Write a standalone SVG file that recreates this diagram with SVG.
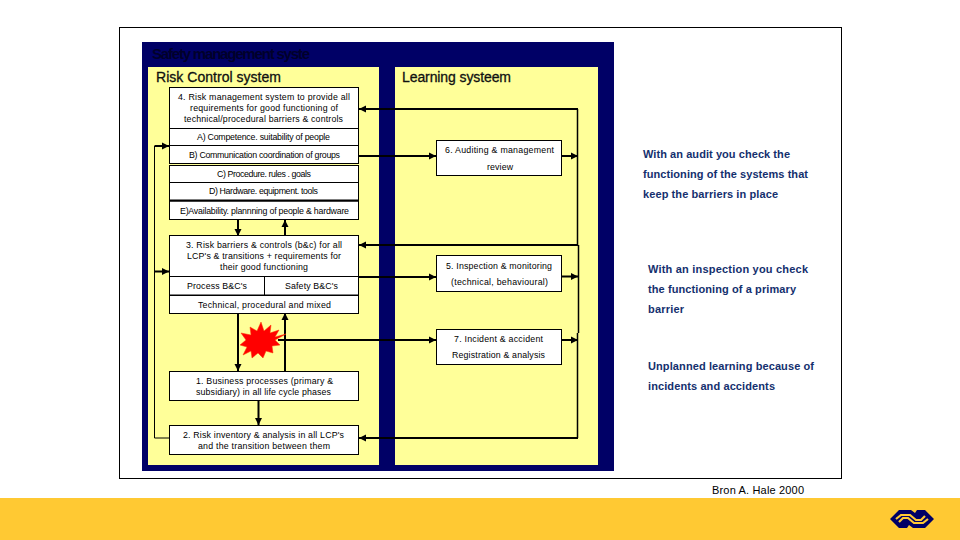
<svg xmlns="http://www.w3.org/2000/svg" width="960" height="540" viewBox="0 0 960 540">
<defs>
<marker id="ah" markerUnits="userSpaceOnUse" markerWidth="8" markerHeight="8" refX="7" refY="4" orient="auto"><path d="M0 0.500L7 4L0 7.500Z" fill="#000"/></marker>
</defs>
<style>
text{font-family:"Liberation Sans",Arial,sans-serif;fill:#000}
.s{font-size:8.800px}
.r{font-size:11px;font-weight:700;fill:#14306e}
.h{font-size:14px;fill:#111;stroke:#111;stroke-width:.3}
.t{font-size:15px;font-weight:700;fill:#00002a}
.box{fill:#fff;stroke:#000;stroke-width:1}
.c{fill:none;stroke:#000;stroke-width:2}
.v{fill:none;stroke:#000;stroke-width:1.500}
.l{fill:none;stroke:#000;stroke-width:1}
.a{marker-end:url(#ah)}
</style>
<rect width="960" height="540" fill="#fff"/>
<rect x="119.500" y="27.500" width="722" height="451" fill="#fff" stroke="#000"/>
<rect x="142" y="42" width="472" height="429" fill="#000066"/>
<rect x="148" y="67" width="231" height="398" fill="#ffff99"/>
<rect x="395" y="67" width="203" height="398" fill="#ffff99"/>
<text x="152" y="59" class="t" textLength="158">Safety management syste</text>
<text x="156" y="82" class="h" textLength="125">Risk Control system</text>
<text x="402" y="82" class="h" textLength="109">Learning systeem</text>
<g id="connectors">
<path class="c a" d="M578 109H359"/>
<path class="v" d="M577.500 109V245M578.500 245V333M577.500 333V438"/>
<path class="c a" d="M578 245H359"/>
<path class="c a" d="M578 438H359"/>
<path class="c a" d="M359 156H436"/>
<path class="c a" d="M562 156H578"/>
<path class="c a" d="M359 277H436"/>
<path class="c a" d="M562 276.500H578"/>
<path class="c a" d="M278 340H436"/>
<path class="c a" d="M562 340H578"/>
<path class="c a" d="M238 220V236"/>
<path class="c a" d="M285 236V220"/>
<path class="c a" d="M238 313V371"/>
<path class="c a" d="M285 371V313"/>
<path class="c a" d="M258.500 400V425"/>
<path class="l" d="M169 438H154.500V146"/>
<path class="c a" d="M154.500 146H169"/>
<path class="c a" d="M154.500 271.500H169"/>
</g>
<polygon id="star" points="286,334 275,337 279,330 270,333 271,325 264,331 261,322 257,331 250,327 251,335 241,333 246,340 240,345 247,347 243,355 251,351 252,358 258,353 263,358 266,351 273,353 272,346 280,345 275,340" fill="#ff0000" stroke="#ff3300" stroke-width=".5"/>
<g id="n4">
<rect class="box" x="169.500" y="87.500" width="189" height="41"/>
<text class="s" x="178" y="100" textLength="172">4. Risk management system to provide all</text>
<text class="s" x="190" y="111" textLength="148">requirements for good functioning of</text>
<text class="s" x="184" y="122" textLength="159">technical/procedural barriers &amp; controls</text>
</g>
<g id="nA"><rect class="box" x="169.500" y="128.500" width="189" height="17"/><text class="s" x="197" y="140" textLength="133">A) Competence. suitability of people</text></g>
<g id="nB"><rect class="box" x="169.500" y="145.500" width="189" height="18"/><text class="s" x="189" y="158" textLength="151">B) Communication coordination of groups</text></g>
<g id="nC"><rect class="box" x="169.500" y="165.500" width="189" height="17"/><text class="s" x="217" y="177" textLength="94">C) Procedure. rules . goals</text></g>
<g id="nD"><rect class="box" x="169.500" y="182.500" width="189" height="18"/><text class="s" x="209" y="194" textLength="109">D) Hardware. equipment. tools</text></g>
<g id="nE"><rect class="box" x="169.500" y="201" width="189" height="18.500"/><path d="M169 200.500H359" stroke="#000" stroke-width="2"/><text class="s" x="180" y="214" textLength="169">E)Availability. plannning of people &amp; hardware</text></g>
<g id="n3">
<rect class="box" x="169.500" y="235.500" width="189" height="41"/>
<text class="s" x="186" y="248" textLength="156">3. Risk barriers &amp; controls (b&amp;c) for all</text>
<text class="s" x="187" y="259" textLength="154">LCP's &amp; transitions + requirements for</text>
<text class="s" x="220" y="270" textLength="88">their good functioning</text>
</g>
<g id="n3a"><rect class="box" x="169.500" y="276.500" width="95" height="18.500"/><text class="s" x="187" y="289" textLength="60">Process B&amp;C's</text></g>
<g id="n3b"><rect class="box" x="264.500" y="276.500" width="94" height="18.500"/><text class="s" x="285" y="289" textLength="53">Safety B&amp;C's</text></g>
<g id="n3c"><rect class="box" x="169.500" y="295.500" width="189" height="18"/><text class="s" x="198" y="308" textLength="133">Technical, procedural and mixed</text></g>
<g id="n1"><rect class="box" x="169.500" y="371.500" width="189" height="29"/>
<text class="s" x="196" y="384" textLength="137">1. Business processes (primary &amp;</text>
<text class="s" x="196" y="395" textLength="135">subsidiary) in all life cycle phases</text></g>
<g id="n2"><rect class="box" x="169.500" y="425.500" width="189" height="29"/>
<text class="s" x="183" y="438" textLength="161">2. Risk inventory &amp; analysis in all LCP's</text>
<text class="s" x="198" y="449" textLength="132">and the transition between them</text></g>
<g id="n6"><rect class="box" x="436.500" y="140.500" width="125" height="35"/>
<text class="s" x="445" y="153" textLength="109">6. Auditing &amp; management</text>
<text class="s" x="487" y="170" textLength="26">review</text></g>
<g id="n5"><rect class="box" x="436.500" y="255.500" width="125" height="36"/>
<text class="s" x="446" y="269" textLength="106">5. Inspection &amp; monitoring</text>
<text class="s" x="451" y="285" textLength="97">(technical, behavioural)</text></g>
<g id="n7"><rect class="box" x="436.500" y="329.500" width="125" height="35"/>
<text class="s" x="454" y="342" textLength="89">7. Incident &amp; accident</text>
<text class="s" x="452" y="358" textLength="93">Registration &amp; analysis</text></g>
<text class="r" x="643" y="158" textLength="147">With an audit you check the</text>
<text class="r" x="643" y="178" textLength="165">functioning of the systems that</text>
<text class="r" x="643" y="198" textLength="135">keep the barriers in place</text>
<text class="r" x="648" y="273" textLength="160">With an inspection  you check</text>
<text class="r" x="648" y="293" textLength="148">the functioning of a primary</text>
<text class="r" x="648" y="313" textLength="36">barrier</text>
<text class="r" x="648" y="370" textLength="166">Unplanned learning because of</text>
<text class="r" x="648" y="390" textLength="127">incidents and accidents</text>
<text x="712" y="494" font-size="11" textLength="92">Bron A. Hale 2000</text>
<rect x="0" y="498" width="960" height="42" fill="#ffc933"/>
<g id="logo"><polygon points="890,519 899,510 911,510 915,513 917,510 925,510 934,519 925,528 913,528 909,525 907,528 899,528" fill="#000066"/><path d="M896 519L901 515H910L916 520H921L925 516M928 519L923 523H914L908 518H903L899 522" fill="none" stroke="#ffc933" stroke-width="2.200"/></g>
</svg>
